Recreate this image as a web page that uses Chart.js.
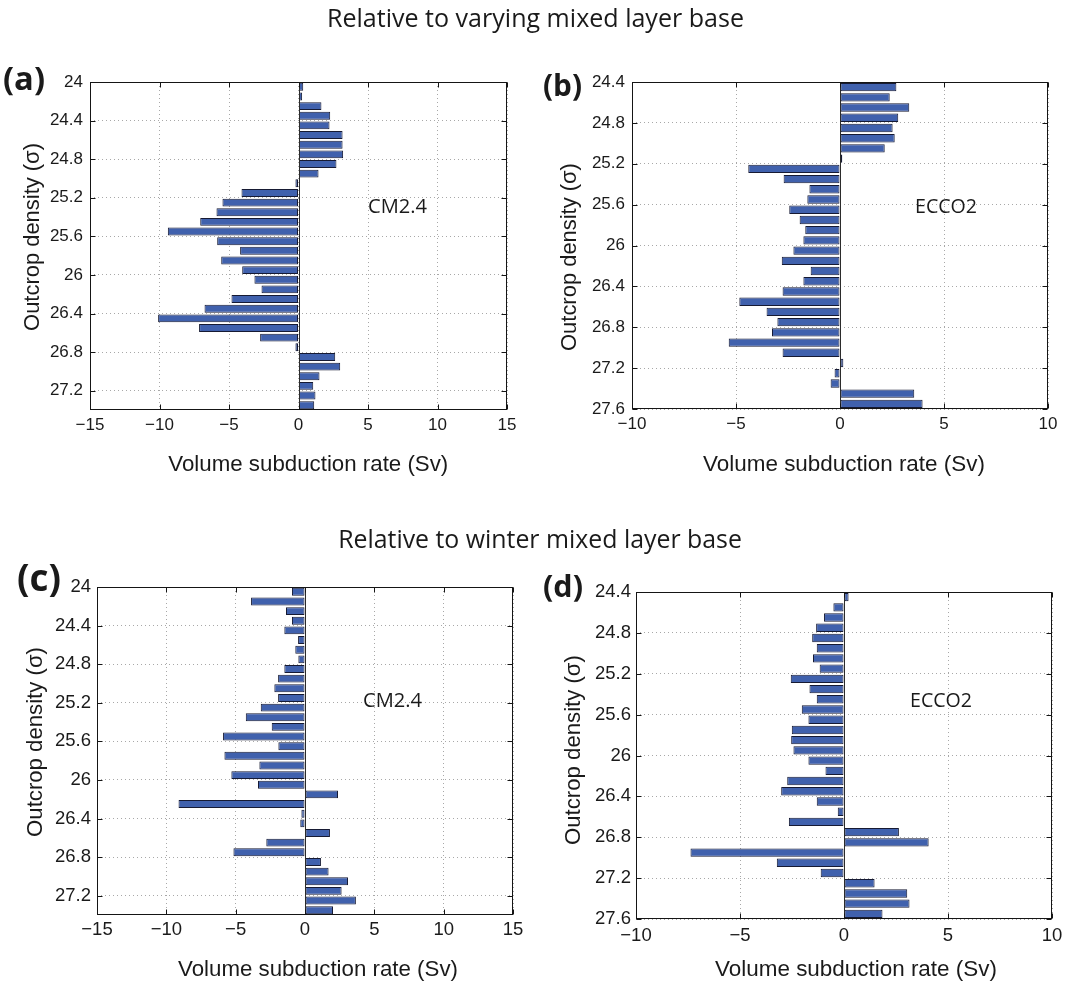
<!DOCTYPE html>
<html><head><meta charset="utf-8">
<script src="https://cdn.jsdelivr.net/npm/chart.js@4.4.1/dist/chart.umd.min.js"></script>
<style>
html,body{margin:0;padding:0;background:#fff;}
#page{position:relative;width:1066px;height:984px;overflow:hidden;background:#fff;}
canvas{position:absolute;}
svg{position:absolute;left:0;top:0;pointer-events:none;}
</style></head><body>
<div id="page">
<canvas id="ca"></canvas>
<canvas id="cb"></canvas>
<canvas id="cc"></canvas>
<canvas id="cd"></canvas>
<svg id="txt" width="1066" height="984" xmlns="http://www.w3.org/2000/svg"></svg>
</div>
<script>
// ---------- data ----------
const densityCM = [24.05,24.15,24.25,24.35,24.45,24.55,24.65,24.75,24.85,24.95,25.05,25.15,25.25,25.35,25.45,25.55,25.65,25.75,25.85,25.95,26.05,26.15,26.25,26.35,26.45,26.55,26.65,26.75,26.85,26.95,27.05,27.15,27.25,27.35];
const densityECCO = [24.45,24.55,24.65,24.75,24.85,24.95,25.05,25.15,25.25,25.35,25.45,25.55,25.65,25.75,25.85,25.95,26.05,26.15,26.25,26.35,26.45,26.55,26.65,26.75,26.85,26.95,27.05,27.15,27.25,27.35,27.45,27.55];

const varyingCM = [0.34,0.26,1.65,2.28,2.23,3.17,3.17,3.21,2.73,1.44,-0.22,-4.10,-5.47,-5.90,-7.07,-9.40,-5.85,-4.20,-5.56,-4.05,-3.17,-2.66,-4.82,-6.76,-10.1,-7.15,-2.76,-0.22,2.64,3.00,1.51,1.06,1.22,1.13];
const varyingECCO = [2.71,2.39,3.33,2.80,2.53,2.63,2.15,0.11,-4.41,-2.71,-1.47,-1.57,-2.44,-1.94,-1.67,-1.76,-2.24,-2.80,-1.41,-1.76,-2.76,-4.84,-3.53,-3.01,-3.27,-5.35,-2.76,0.16,-0.26,-0.45,3.57,3.97];
const winterCM = [-0.94,-3.89,-1.37,-0.94,-1.49,-0.50,-0.70,-0.48,-1.49,-1.94,-2.21,-1.94,-3.19,-4.27,-2.40,-5.91,-1.92,-5.81,-3.29,-5.31,-3.39,2.38,-9.12,-0.26,-0.34,1.80,-2.79,-5.16,1.15,1.70,3.10,2.64,3.67,2.02];
const winterECCO = [0.22,-0.51,-0.96,-1.34,-1.53,-1.31,-1.49,-1.17,-2.56,-1.66,-1.31,-2.03,-1.71,-2.51,-2.54,-2.43,-1.71,-0.89,-2.73,-3.02,-1.31,-0.30,-2.65,2.64,4.07,-7.38,-3.23,-1.12,1.47,3.04,3.15,1.85];

const xTicksWide = [-15,-10,-5,0,5,10,15];
const xTickLabelsWide = ['\u221215','\u221210','\u22125','0','5','10','15'];
const xTicksNarrow = [-10,-5,0,5,10];
const xTickLabelsNarrow = ['\u221210','\u22125','0','5','10'];
const yTicksCM = [24,24.4,24.8,25.2,25.6,26,26.4,26.8,27.2];
const yTickLabelsCM = ['24','24.4','24.8','25.2','25.6','26','26.4','26.8','27.2'];
const yTicksECCO = [24.4,24.8,25.2,25.6,26,26.4,26.8,27.2,27.6];
const yTickLabelsECCO = ['24.4','24.8','25.2','25.6','26','26.4','26.8','27.2','27.6'];

// ---------- drawing ----------
const framePlugin = {
  id: 'frame',
  afterDatasetsDraw(chart) {
    const {ctx, chartArea, scales} = chart;
    const x0 = Math.round(chartArea.left) + 0.5, y0 = Math.round(chartArea.top) + 0.5;
    const x1 = Math.round(chartArea.right) - 0.5, y1 = Math.round(chartArea.bottom) - 0.5;
    ctx.save();
    ctx.lineWidth = 1;
    const zx = Math.round(scales.x.getPixelForValue(0)) + 0.5;
    ctx.strokeStyle = '#2b2b2b';
    ctx.beginPath(); ctx.moveTo(zx, y0); ctx.lineTo(zx, y1); ctx.stroke();
    ctx.strokeStyle = '#151515';
    ctx.strokeRect(x0, y0, x1 - x0, y1 - y0);
    ctx.beginPath();
    scales.x.ticks.forEach(t => {
      const px = Math.round(scales.x.getPixelForValue(t.value)) + 0.5;
      ctx.moveTo(px, y1); ctx.lineTo(px, y1 - 5);
      ctx.moveTo(px, y0); ctx.lineTo(px, y0 + 5);
    });
    scales.y.ticks.forEach(t => {
      const py = Math.round(scales.y.getPixelForValue(t.value)) + 0.5;
      ctx.moveTo(x0, py); ctx.lineTo(x0 + 5, py);
      ctx.moveTo(x1, py); ctx.lineTo(x1 - 5, py);
    });
    ctx.stroke();
    ctx.restore();
  }
};

function makePanel(id, cv, area, dens, vals, xr, xt, xl, yr, yt, yl, fs, ypad, xpad) {
  const el = document.getElementById(id);
  el.width = cv.w; el.height = cv.h;
  el.style.left = cv.left + 'px'; el.style.top = cv.top + 'px';
  el.style.width = cv.w + 'px'; el.style.height = cv.h + 'px';
  const font = {family: "'Liberation Sans', Arial, sans-serif", size: fs};
  new Chart(el, {
    type: 'bar',
    data: {
      datasets: [{
        data: dens.map((d, i) => ({x: vals[i], y: d})),
        backgroundColor: '#4061ad',
        borderColor: '#161a33',
        borderWidth: 1,
        borderSkipped: false,
        inflateAmount: 0,
        barPercentage: 0.82,
        categoryPercentage: 1.0
      }]
    },
    options: {
      indexAxis: 'y',
      responsive: false,
      animation: false,
      events: [],
      layout: {padding: {left: 0, bottom: 0, top: area.t - cv.top, right: cv.left + cv.w - area.r}},
      plugins: {legend: {display: false}, tooltip: {enabled: false}},
      scales: {
        x: {
          type: 'linear', min: xr[0], max: xr[1],
          afterBuildTicks: s => { s.ticks = xt.map(v => ({value: v})); },
          afterFit: s => { s.height = cv.top + cv.h - area.b; s.paddingLeft = 0; s.paddingRight = 0; },
          ticks: {autoSkip: false, maxRotation: 0, padding: xpad, color: '#1a1a1a', font,
                  callback: (v, i) => xl[i]},
          grid: {color: '#a8a8a8', lineWidth: 1, drawTicks: false},
          border: {display: false, dash: [1, 3]}
        },
        y: {
          type: 'linear', min: yr[0], max: yr[1], reverse: true, offset: false,
          afterBuildTicks: s => { s.ticks = yt.map(v => ({value: v})); },
          afterFit: s => { s.width = area.l - cv.left; s.paddingTop = 0; s.paddingBottom = 0; },
          ticks: {autoSkip: false, padding: ypad, color: '#1a1a1a', font,
                  callback: (v, i) => yl[i]},
          grid: {color: '#a8a8a8', lineWidth: 1, drawTicks: false, offset: false},
          border: {display: false, dash: [1, 3]}
        }
      }
    },
    plugins: [framePlugin]
  });
}

makePanel('ca', {left: 0, top: 60, w: 530, h: 400}, {l: 90, t: 82, r: 507, b: 410},
  densityCM, varyingCM, [-15, 15], xTicksWide, xTickLabelsWide, [24, 27.4], yTicksCM, yTickLabelsCM, 17, 7, 5);
makePanel('cb', {left: 540, top: 60, w: 526, h: 400}, {l: 632, t: 82, r: 1048, b: 409},
  densityECCO, varyingECCO, [-10, 10], xTicksNarrow, xTickLabelsNarrow, [24.4, 27.6], yTicksECCO, yTickLabelsECCO, 17, 7, 5);
makePanel('cc', {left: 0, top: 565, w: 530, h: 400}, {l: 97, t: 587, r: 513, b: 915},
  densityCM, winterCM, [-15, 15], xTicksWide, xTickLabelsWide, [24, 27.4], yTicksCM, yTickLabelsCM, 18.5, 6, 4);
makePanel('cd', {left: 540, top: 570, w: 526, h: 400}, {l: 636, t: 592, r: 1052, b: 919},
  densityECCO, winterECCO, [-10, 10], xTicksNarrow, xTickLabelsNarrow, [24.4, 27.6], yTicksECCO, yTickLabelsECCO, 18.5, 5, 6);

// ---------- text ----------
const svg = document.getElementById('txt');
function addText(str, x, y, w, family, weight, rotate) {
  const t = document.createElementNS('http://www.w3.org/2000/svg', 'text');
  t.textContent = str;
  t.setAttribute('x', x); t.setAttribute('y', y);
  t.setAttribute('text-anchor', 'middle');
  t.setAttribute('font-family', family);
  t.setAttribute('font-weight', weight);
  t.setAttribute('font-size', 20);
  t.setAttribute('fill', '#1a1a1a');
  svg.appendChild(t);
  const len = t.getComputedTextLength();
  if (len > 0) t.setAttribute('font-size', (20 * w / len).toFixed(2));
  if (rotate) t.setAttribute('transform', 'rotate(-90 ' + x + ' ' + y + ')');
}
const HUM = "'Open Sans', 'Noto Sans', sans-serif";
const HEL = "'Liberation Sans', Arial, sans-serif";
addText('Relative to varying mixed layer base', 535.5, 27, 417, HUM, 400, false);
addText('Relative to winter mixed layer base', 540, 548, 404, HUM, 400, false);
addText('(a)', 24, 90, 42, HUM, 700, false);
addText('(b)', 562.5, 96, 39, HUM, 700, false);
addText('(c)', 39, 591, 44, HUM, 700, false);
addText('(d)', 563, 597, 40, HUM, 700, false);
addText('Outcrop density (\u03c3)', 39, 237, 188, HEL, 400, true);
addText('Outcrop density (\u03c3)', 576, 257, 188, HEL, 400, true);
addText('Outcrop density (\u03c3)', 42, 742, 190, HEL, 400, true);
addText('Outcrop density (\u03c3)', 580, 750, 190, HEL, 400, true);
addText('Volume subduction rate (Sv)', 308.3, 470.5, 280, HEL, 400, false);
addText('Volume subduction rate (Sv)', 844, 471, 282, HEL, 400, false);
addText('Volume subduction rate (Sv)', 318, 976, 280, HEL, 400, false);
addText('Volume subduction rate (Sv)', 856, 976, 282, HEL, 400, false);
addText('CM2.4', 397.5, 213, 59, HUM, 400, false);
addText('ECCO2', 946, 213, 62, HUM, 400, false);
addText('CM2.4', 392.5, 707, 59, HUM, 400, false);
addText('ECCO2', 941, 707, 62, HUM, 400, false);
</script>
</body></html>
